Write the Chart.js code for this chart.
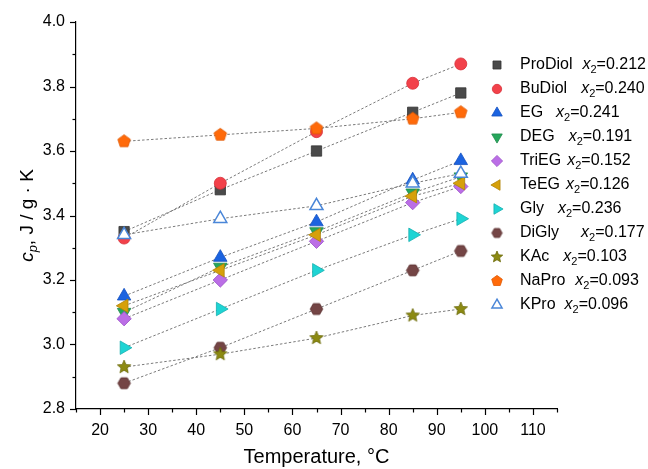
<!DOCTYPE html>
<html><head><meta charset="utf-8">
<script src="https://cdn.jsdelivr.net/npm/chart.js@4.4.0/dist/chart.umd.min.js"></script>
<style>html,body{margin:0;padding:0;background:#fff}#wrap{width:648px;height:469px}</style>
</head><body><div id="wrap"><canvas id="c" width="648" height="469"></canvas></div>
<script>
// ---- data ----
const temperatures = [25, 45, 65, 85, 95];
const seriesNames = ['ProDiol','BuDiol','EG','DEG','TriEG','TeEG','Gly','DiGly','KAc','NaPro','KPro'];
const x2Values = ['0.212','0.240','0.241','0.191','0.152','0.126','0.236','0.177','0.103','0.093','0.096'];
const cpProDiol = [3.35, 3.48, 3.60, 3.72, 3.78];
const cpBuDiol  = [3.33, 3.50, 3.66, 3.81, 3.87];
const cpEG      = [3.15, 3.27, 3.38, 3.51, 3.57];
const cpDEG     = [3.10, 3.24, 3.35, 3.47, 3.52];
const cpTriEG   = [3.08, 3.20, 3.32, 3.44, 3.49];
const cpTeEG    = [3.12, 3.23, 3.34, 3.46, 3.50];
const cpGly     = [2.99, 3.11, 3.23, 3.34, 3.39];
const cpDiGly   = [2.88, 2.99, 3.11, 3.23, 3.29];
const cpKAc     = [2.93, 2.97, 3.02, 3.09, 3.11];
const cpNaPro   = [3.63, 3.65, 3.67, 3.70, 3.72];
const cpKPro    = [3.34, 3.39, 3.43, 3.50, 3.53];
const xTickValues = [20, 30, 40, 50, 60, 70, 80, 90, 100, 110];
const yTickValues = [2.8, 3.0, 3.2, 3.4, 3.6, 3.8, 4.0];
const allSeries = [cpProDiol, cpBuDiol, cpEG, cpDEG, cpTriEG, cpTeEG, cpGly, cpDiGly, cpKAc, cpNaPro, cpKPro];

// ---- styles ----
const FONT = '"Liberation Sans", Arial, sans-serif';
const fills   = ['#4a4a4a','#f2414a','#1b63e0','#26a65b','#bb6ee6','#d6a00a','#1ed4d4','#744545','#8c8a12','#ff6a0a','#ffffff'];
const strokes = ['#333333','#d83038','#1450c0','#1d8a4a','#9a50c8','#b08408','#16b0b0','#5a3030','#6a6808','#e05800','#4a86d8'];
const legendGaps = [10, 14, 13, 14, 6, 6, 14, 22, 14, 10, 9];

function polyCanvas(n, r, fill, stroke, inner, rotDeg) {
  const s = Math.ceil(2 * r + 4), c = document.createElement('canvas');
  c.width = s; c.height = s;
  const g = c.getContext('2d'), cx = s / 2, cy = s / 2;
  g.beginPath();
  const pts = inner ? n * 2 : n;
  for (let i = 0; i < pts; i++) {
    const a = -Math.PI / 2 + (rotDeg || 0) * Math.PI / 180 + i * 2 * Math.PI / pts;
    const rr = inner && (i % 2) ? r * inner : r;
    const px = cx + rr * Math.cos(a), py = cy + rr * Math.sin(a);
    i ? g.lineTo(px, py) : g.moveTo(px, py);
  }
  g.closePath();
  g.fillStyle = fill; g.fill();
  g.lineWidth = 0.8; g.strokeStyle = stroke; g.stroke();
  return c;
}
const hexImg  = polyCanvas(6, 6.3, fills[7], strokes[7], 0, 30);
const starImg = polyCanvas(5, 7, fills[8], strokes[8], 0.45, 0);
const pentImg = polyCanvas(5, 6.6, fills[9], strokes[9], 0, 0);
const hexImgS  = polyCanvas(6, 5.2, fills[7], strokes[7], 0, 30);
const starImgS = polyCanvas(5, 6, fills[8], strokes[8], 0.45, 0);
const pentImgS = polyCanvas(5, 5.6, fills[9], strokes[9], 0, 0);
const legendImgs = { 7: hexImgS, 8: starImgS, 9: pentImgS };

const pointStyles = ['rect','circle','triangle','triangle','rectRot','triangle','triangle', hexImg, starImg, pentImg, 'triangle'];
const rotations   = [0, 0, 0, 180, 0, -90, 90, 0, 0, 0, 0];
const radii       = [7.3, 6, 7.8, 7.8, 7.2, 7.8, 7.8, 7, 7, 7, 7.5];
const borderWs    = [0.8, 0.8, 0.8, 0.8, 0.8, 0.8, 0.8, 0.8, 0.8, 0.8, 1.5];

const datasets = seriesNames.map((name, i) => ({
  label: name,
  data: temperatures.map((t, j) => ({ x: t, y: allSeries[i][j] })),
  borderColor: '#7a7a7a',
  borderWidth: 1,
  borderDash: [2.5, 2],
  pointStyle: pointStyles[i],
  rotation: rotations[i],
  pointRadius: radii[i],
  pointHoverRadius: radii[i],
  pointBackgroundColor: fills[i],
  pointBorderColor: strokes[i],
  pointBorderWidth: borderWs[i],
  fill: false,
  tension: 0,
  order: 20 - i
}));

function drawRich(ctx, segs, x, y) {
  let cx = x;
  for (const [t, size, it, dy] of segs) {
    ctx.font = (it ? 'italic ' : '') + size + 'px ' + FONT;
    ctx.fillText(t, cx, y + dy);
    cx += ctx.measureText(t).width;
  }
  return cx - x;
}
function richWidth(ctx, segs) {
  let w = 0;
  for (const [t, size, it] of segs) { ctx.font = (it ? 'italic ' : '') + size + 'px ' + FONT; w += ctx.measureText(t).width; }
  return w;
}

const decor = {
  id: 'decor',
  afterDraw(chart) {
    const ctx = chart.ctx, xs = chart.scales.x, ys = chart.scales.y, ca = chart.chartArea;
    ctx.save();
    ctx.strokeStyle = '#000'; ctx.lineWidth = 1.2;
    for (let v = 15; v <= 115; v += 5) {
      const px = Math.round(xs.getPixelForValue(v)) + 0.5;
      const len = v % 10 === 0 ? 6 : 3.5;
      ctx.beginPath(); ctx.moveTo(px, ca.bottom); ctx.lineTo(px, ca.bottom + len); ctx.stroke();
    }
    for (let k = 0; k <= 12; k++) {
      const v = 2.8 + k * 0.1;
      const py = Math.round(ys.getPixelForValue(v)) + 0.5;
      const len = k % 2 === 0 ? 6 : 3.5;
      ctx.beginPath(); ctx.moveTo(ca.left, py); ctx.lineTo(ca.left - len, py); ctx.stroke();
    }
    ctx.fillStyle = '#000';
    ctx.textBaseline = 'middle';
    ctx.font = '20px ' + FONT; ctx.textAlign = 'center';
    ctx.fillText('Temperature, °C', (ca.left + ca.right) / 2, 457);
    ctx.save();
    ctx.translate(28, (ca.top + ca.bottom) / 2);
    ctx.rotate(-Math.PI / 2);
    ctx.textAlign = 'left';
    const ySegs = [['c', 19, true, 0], ['p', 13, true, 5], [', J / g \u00B7 K', 19, false, 0]];
    drawRich(ctx, ySegs, -richWidth(ctx, ySegs) / 2, 0);
    ctx.restore();
    ctx.textAlign = 'left';
    chart.data.datasets.forEach((ds, i) => {
      const rowY = 65 + i * 24;
      ctx.save();
      ctx.fillStyle = ds.pointBackgroundColor; ctx.strokeStyle = ds.pointBorderColor;
      ctx.lineWidth = ds.pointBorderWidth;
      Chart.helpers.drawPoint(ctx, { pointStyle: legendImgs[i] || ds.pointStyle, rotation: ds.rotation, radius: ds.pointRadius * 0.78, borderWidth: ds.pointBorderWidth }, 497, rowY);
      ctx.restore();
      ctx.fillStyle = '#000';
      ctx.font = '16px ' + FONT;
      ctx.fillText(ds.label, 520, rowY);
      const nx = 520 + ctx.measureText(ds.label).width + legendGaps[i];
      drawRich(ctx, [['x', 16, true, 0], ['2', 11, false, 5], ['=' + x2Values[i], 16, false, 0]], nx, rowY);
    });
    ctx.restore();
  }
};

new Chart(document.getElementById('c'), {
  type: 'line',
  data: { datasets },
  options: {
    responsive: false,
    devicePixelRatio: 1,
    animation: false,
    layout: { padding: { left: 0, right: 91, top: 22, bottom: 0 } },
    plugins: { legend: { display: false }, tooltip: { enabled: false } },
    scales: {
      x: {
        type: 'linear', min: 15, max: 115,
        afterBuildTicks: s => { s.ticks = xTickValues.map(v => ({ value: v })); },
        afterFit: s => { s.height = 60; },
        grid: { display: false, drawTicks: false },
        border: { display: true, color: '#000', width: 1.2 },
        ticks: { color: '#000', padding: 12, maxRotation: 0, font: { family: FONT, size: 16 }, callback: v => String(v) }
      },
      y: {
        type: 'linear', min: 2.8, max: 4.0,
        afterBuildTicks: s => { s.ticks = yTickValues.map(v => ({ value: v })); },
        afterFit: s => { s.width = 76; },
        grid: { display: false, drawTicks: false },
        border: { display: true, color: '#000', width: 1.2 },
        ticks: { color: '#000', padding: 11, font: { family: FONT, size: 16 }, callback: v => Number(v).toFixed(1) }
      }
    }
  },
  plugins: [decor]
});
</script></body></html>
